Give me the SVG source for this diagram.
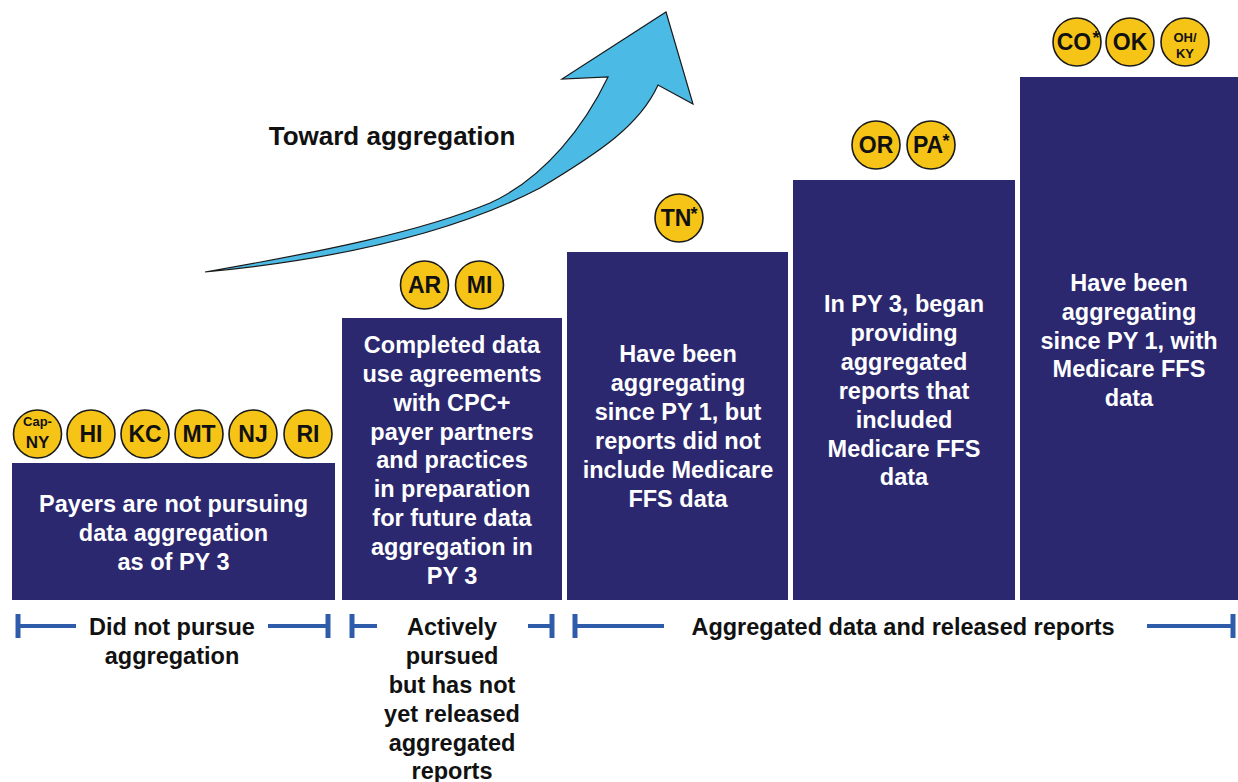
<svg xmlns="http://www.w3.org/2000/svg" width="1238" height="782" viewBox="0 0 1238 782">
<style>
.box{fill:#2b2870}
.bt{font-family:"Liberation Sans",Arial,sans-serif;font-weight:bold;font-size:23.5px;fill:#ffffff;text-anchor:middle}
.lt{font-family:"Liberation Sans",Arial,sans-serif;font-weight:bold;font-size:23.5px;fill:#111111;text-anchor:middle}
.st{fill:#f6c417;stroke:#1a1a1a;stroke-width:1.6}
.ct{font-family:"Liberation Sans",Arial,sans-serif;font-weight:bold;font-size:23px;fill:#111111;text-anchor:middle}
.sm{font-size:13px}
.ast{font-size:18px}
.br{stroke:#2f5caa;stroke-width:4;fill:none}
.tk{stroke:#2f5caa;stroke-width:5;fill:none}
</style>
<rect width="1238" height="782" fill="#ffffff"/>

<g id="arrow">
<path d="M205,272 C320,252 420,232 490,203 C545,178 585,125 608,77 L562,79 L666,12 L693,104 L658,85 C640,125 600,152 540,188 C450,235 330,260 205,272 Z" fill="#4bbbe6" stroke="#1a1a1a" stroke-width="1.2" stroke-linejoin="miter"/>
<text class="lt" x="392" y="145" style="font-size:26px">Toward aggregation</text>
</g>

<g id="node-notpursuing">
<rect class="box" x="12" y="463" width="323" height="137"/>
<text class="bt" x="173.5" y="512">Payers are not pursuing</text>
<text class="bt" x="173.5" y="541">data aggregation</text>
<text class="bt" x="173.5" y="570">as of PY 3</text>
</g>

<g id="node-completed">
<rect class="box" x="342" y="318" width="220" height="282"/>
<text class="bt" x="452" y="353">Completed data</text>
<text class="bt" x="452" y="382">use agreements</text>
<text class="bt" x="452" y="411">with CPC+</text>
<text class="bt" x="452" y="440">payer partners</text>
<text class="bt" x="452" y="468">and practices</text>
<text class="bt" x="452" y="497">in preparation</text>
<text class="bt" x="452" y="526">for future data</text>
<text class="bt" x="452" y="555">aggregation in</text>
<text class="bt" x="452" y="584">PY 3</text>
</g>

<g id="node-aggnoffs">
<rect class="box" x="567" y="252" width="221" height="348"/>
<text class="bt" x="678" y="362">Have been</text>
<text class="bt" x="678" y="391">aggregating</text>
<text class="bt" x="678" y="420">since PY 1, but</text>
<text class="bt" x="678" y="449">reports did not</text>
<text class="bt" x="678" y="478">include Medicare</text>
<text class="bt" x="678" y="507">FFS data</text>
</g>

<g id="node-py3ffs">
<rect class="box" x="793" y="180" width="222" height="420"/>
<text class="bt" x="904" y="312">In PY 3, began</text>
<text class="bt" x="904" y="341">providing</text>
<text class="bt" x="904" y="370">aggregated</text>
<text class="bt" x="904" y="399">reports that</text>
<text class="bt" x="904" y="428">included</text>
<text class="bt" x="904" y="457">Medicare FFS</text>
<text class="bt" x="904" y="485">data</text>
</g>

<g id="node-py1ffs">
<rect class="box" x="1020" y="77" width="218" height="523"/>
<text class="bt" x="1129" y="291">Have been</text>
<text class="bt" x="1129" y="320">aggregating</text>
<text class="bt" x="1129" y="349">since PY 1, with</text>
<text class="bt" x="1129" y="377">Medicare FFS</text>
<text class="bt" x="1129" y="406">data</text>
</g>

<g id="badges-row1">
<circle class="st" cx="37.5" cy="434" r="24"/>
<text class="ct sm" x="37.5" y="426">Cap-</text>
<text class="ct" x="37.5" y="448" style="font-size:17px">NY</text>
<circle class="st" cx="91" cy="434" r="24"/>
<text class="ct" x="91" y="442">HI</text>
<circle class="st" cx="145" cy="434" r="24"/>
<text class="ct" x="145" y="442">KC</text>
<circle class="st" cx="199" cy="434" r="24"/>
<text class="ct" x="199" y="442">MT</text>
<circle class="st" cx="253" cy="434" r="24"/>
<text class="ct" x="253" y="442">NJ</text>
<circle class="st" cx="308" cy="434" r="24"/>
<text class="ct" x="308" y="442">RI</text>
</g>

<g id="badges-row2">
<circle class="st" cx="424.5" cy="285" r="24"/>
<text class="ct" x="424.5" y="293">AR</text>
<circle class="st" cx="479.5" cy="285" r="24"/>
<text class="ct" x="479.5" y="293">MI</text>
</g>

<g id="badges-row3">
<circle class="st" cx="679" cy="218" r="24"/>
<text class="ct" x="676" y="226">TN</text>
<text class="ct ast" x="694" y="220">*</text>
</g>

<g id="badges-row4">
<circle class="st" cx="876" cy="145" r="24"/>
<text class="ct" x="876" y="153">OR</text>
<circle class="st" cx="931" cy="145" r="24"/>
<text class="ct" x="928" y="153">PA</text>
<text class="ct ast" x="946" y="147">*</text>
</g>

<g id="badges-row5">
<circle class="st" cx="1077" cy="42" r="24"/>
<text class="ct" x="1074" y="50">CO</text>
<text class="ct ast" x="1096" y="44">*</text>
<circle class="st" cx="1130" cy="42" r="24"/>
<text class="ct" x="1130" y="50">OK</text>
<circle class="st" cx="1185" cy="42" r="24"/>
<text class="ct sm" x="1185" y="42">OH/</text>
<text class="ct sm" x="1185" y="58">KY</text>
</g>

<g id="connectors">
<line class="tk" x1="18" y1="614" x2="18" y2="638"/>
<line class="br" x1="18" y1="626" x2="76" y2="626"/>
<line class="br" x1="268" y1="626" x2="328" y2="626"/>
<line class="tk" x1="328" y1="614" x2="328" y2="638"/>
<line class="tk" x1="352" y1="614" x2="352" y2="638"/>
<line class="br" x1="352" y1="626" x2="377" y2="626"/>
<line class="br" x1="528" y1="626" x2="552" y2="626"/>
<line class="tk" x1="552" y1="614" x2="552" y2="638"/>
<line class="tk" x1="575" y1="614" x2="575" y2="638"/>
<line class="br" x1="575" y1="626" x2="664" y2="626"/>
<line class="br" x1="1147" y1="626" x2="1233" y2="626"/>
<line class="tk" x1="1233" y1="614" x2="1233" y2="638"/>
</g>

<g id="labels">
<text class="lt" x="172" y="635">Did not pursue</text>
<text class="lt" x="172" y="664">aggregation</text>
<text class="lt" x="452" y="635">Actively</text>
<text class="lt" x="452" y="664">pursued</text>
<text class="lt" x="452" y="693">but has not</text>
<text class="lt" x="452" y="722">yet released</text>
<text class="lt" x="452" y="751">aggregated</text>
<text class="lt" x="452" y="779">reports</text>
<text class="lt" x="903" y="635">Aggregated data and released reports</text>
</g>
</svg>
